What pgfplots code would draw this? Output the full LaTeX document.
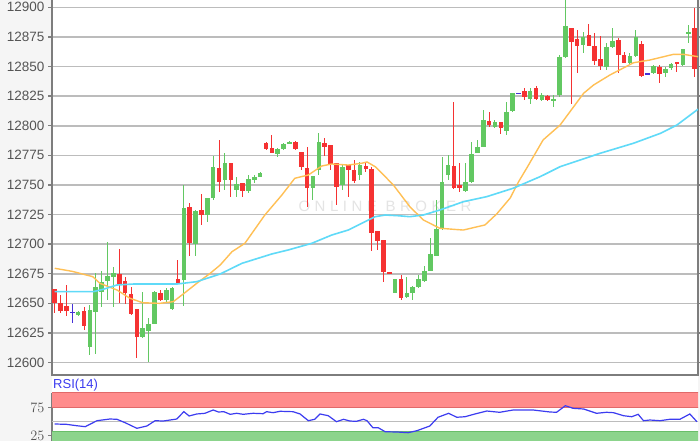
\documentclass[border=0pt]{standalone}
\usepackage{fontspec}
\setmainfont{Liberation Sans}
\usepackage{pgfplots}
\usepackage{pgfplotstable}
\pgfplotsset{compat=1.18}

\definecolor{bggray}{RGB}{245,245,245}
\definecolor{upc}{RGB}{98,200,98}
\definecolor{dnc}{RGB}{245,50,50}
\definecolor{dojic}{RGB}{70,50,215}
\definecolor{maY}{RGB}{255,192,85}
\definecolor{maC}{RGB}{95,218,248}
\definecolor{gridc}{RGB}{188,188,188}
\definecolor{axisc}{RGB}{125,125,125}
\definecolor{labc}{RGB}{85,85,85}
\definecolor{rsired}{RGB}{255,140,140}
\definecolor{rsiredd}{RGB}{225,105,105}
\definecolor{rsigreen}{RGB}{140,212,140}
\definecolor{rsigreend}{RGB}{105,190,105}
\definecolor{rsiline}{RGB}{60,60,240}
\definecolor{wm}{RGB}{228,228,228}

% candles: index, open, high, low, close
\pgfplotstableread{
i o h l c
4 12640 12644 12639 12642.9
6 12613.4 12648.6 12606.4 12644.4
7 12642.9 12676 12607 12664.1
8 12659.8 12677.6 12647.2 12668.3
9 12669.1 12701.8 12652.8 12673.1
10 12672.5 12680.7 12647.2 12675.4
15 12621.8 12659.8 12620.5 12628.9
16 12627.1 12637.6 12600.7 12632.8
17 12633.1 12660.3 12632.5 12659.8
19 12652.8 12663.5 12651.4 12661.3
20 12645 12664 12644.5 12663.5
22 12669.7 12750 12647.8 12730.3
24 12700.1 12728.8 12690 12728.2
26 12724.6 12738.7 12718.7 12738.7
27 12738.7 12774.4 12737.3 12765.4
29 12754.2 12776.7 12745.7 12768.3
31 12745.7 12757 12739.6 12750.8
33 12745.1 12758.4 12743.2 12754.8
34 12754.2 12758.4 12751.4 12757
35 12757 12761.2 12756.5 12759.8
38 12775.9 12781.6 12774.1 12780.1
39 12780.1 12785.1 12779.5 12784.6
40 12785.2 12787 12785 12786.5
44 12747.2 12757.5 12737.3 12757.5
45 12762.6 12793.6 12758.4 12786.5
49 12750 12766.8 12745.7 12765.4
52 12758.4 12769.4 12754.2 12766.8
58 12659 12670.3 12659 12670.3
60 12655.1 12672.5 12654.3 12658.5
61 12658.5 12664.6 12652.8 12663.5
62 12663.5 12674 12662.7 12670.3
63 12669.1 12681.5 12668.3 12677.6
64 12677.6 12705 12677.6 12691.7
65 12690 12737.3 12690 12713
66 12713 12773.9 12712 12752.7
67 12758.4 12775.3 12754.2 12766.8
70 12745.1 12768.3 12744.3 12752.7
71 12752.7 12786.5 12751.4 12776.1
72 12777.2 12788 12776.7 12782.3
73 12782.3 12813.3 12781.8 12804.9
75 12799.2 12805 12798 12803.4
77 12795.8 12820.3 12792.2 12811.9
78 12812.7 12827.6 12811.9 12827.4
81 12822.3 12831.6 12818.4 12829.6
83 12821.7 12827.4 12821 12826
85 12821.1 12826 12815.6 12822.3
86 12826 12859.7 12824.5 12858.3
87 12858.3 12907 12857 12884.2
90 12868.2 12879.4 12861.2 12874.7
94 12849.9 12869.6 12847.1 12866.8
95 12866.8 12882.3 12865.4 12871.8
98 12853.2 12861.7 12852.7 12858.9
99 12858.9 12880.9 12857.8 12874.7
102 12844.3 12851.3 12843.7 12850.5
104 12844.3 12849.9 12840.9 12848.3
105 12848.5 12853.2 12847.1 12852.1
107 12851.3 12864.6 12850.5 12864.6
108 12878.6 12885.1 12869.6 12879.1
}\up

\pgfplotstableread{
i o h l c
0 12661.8 12662.5 12641.6 12650.5
1 12650.1 12657 12642 12643.8
2 12647.7 12666 12639 12643.8
5 12643.5 12647 12627.5 12630.9
11 12674.8 12695.9 12650 12666.9
12 12668.9 12672.5 12650 12658.5
13 12657.9 12664 12640.1 12641
14 12645 12645 12603.6 12621.8
18 12658.5 12661.3 12652.2 12652.8
21 12670.5 12686.6 12666.9 12666.9
23 12731.1 12735 12690 12700.7
25 12728.8 12742.3 12716 12724.6
28 12764 12788 12744.3 12752.7
30 12768.8 12769 12739.6 12754.2
32 12751.9 12752 12739.6 12745.1
36 12785.7 12786 12779.8 12780.1
37 12780.9 12792.2 12776.7 12777.2
41 12786.5 12787 12779.5 12780.1
42 12778.1 12778.3 12763 12765.4
43 12764 12782.3 12731.6 12747.2
46 12785.7 12789.4 12774.4 12782
47 12783.7 12784 12762.6 12767.7
48 12768.3 12768.5 12733 12748.3
50 12766.8 12767 12740.1 12762.6
51 12762.6 12771.1 12751.4 12753.7
53 12766 12769.4 12760.9 12763.4
54 12763.2 12765.2 12694.5 12709.7
55 12711.4 12711.6 12695 12703
56 12703.5 12703.6 12668.3 12676.7
57 12676.7 12676.8 12675.2 12675.4
59 12670.3 12674 12652.8 12654.3
68 12766 12820.3 12747 12747.2
69 12750 12768.3 12744.3 12747.2
74 12804.3 12811.9 12799.2 12800.6
76 12803.4 12803.5 12793 12797.8
80 12829.6 12831.6 12821.7 12824.5
82 12831.6 12833.6 12821.5 12822.3
84 12825.1 12826 12821 12821.7
88 12882.3 12882.5 12818.4 12871
89 12873 12880.9 12844.8 12867.3
91 12876.6 12885.9 12867.1 12867.3
92 12867.3 12878.6 12851.3 12854.9
93 12856.1 12875.8 12847.1 12850.5
96 12872.4 12873.8 12844.3 12859.7
97 12859.7 12862.5 12852.7 12853.2
100 12869 12871.8 12841.4 12842
103 12849.9 12851.3 12836.4 12843.7
106 12853.8 12854 12845.6 12852.1
109 12882.3 12899.2 12841.4 12847.7
}\down

\pgfplotstableread{
i o h l c
3 12642.4 12649.4 12633.7 12642.4
79 12827.4 12827.6 12827.2 12827.4
101 12843.7 12843.9 12843.5 12843.7
}\doji

\pgfplotstableread{
i v
0 12679.6
3 12677
6.5 12672.5
7.7 12666.9
10.6 12661.3
12.8 12654.3
15.0 12650.5
17.9 12650.0
20.2 12651.4
21.9 12657.9
24.2 12666.9
26.5 12675.4
28.2 12682.4
30.2 12693.6
32.4 12700.7
35.8 12724.6
38.7 12741.5
40.9 12755.6
43.2 12758.4
45.5 12766.0
47.2 12767.7
50.0 12766.8
52.3 12768.3
53.2 12769.4
54.6 12765.4
56.3 12757.0
57.7 12749.9
60.5 12731.6
62.8 12720.4
65.6 12713.4
69.6 12711.9
73.3 12716.2
75.3 12725.5
77.6 12739.0
79.0 12752.5
80.4 12764.1
83.2 12788.0
86.1 12800.6
90.1 12827.4
91.8 12834.4
94.6 12842.9
98.6 12853.2
101.4 12855.5
105.4 12860.3
107.1 12860.3
109.6 12858.3
}\maY

\pgfplotstableread{
i v
0 12659.9
6.6 12659.9
8.3 12661.9
10.6 12665.5
13.4 12666.3
20.8 12666.3
24.2 12668.3
28.2 12674.8
31.9 12683.8
37.0 12691.7
39.8 12695.1
43.8 12700.7
47.2 12707.7
50.0 12711.9
52.3 12717.6
54.6 12723.2
56.3 12724.6
58.5 12724.0
60.5 12723.2
62.8 12724.6
65.6 12728.8
69.6 12735.8
73.6 12740.1
78.1 12747.2
82.7 12757.0
86.1 12765.4
92.9 12776.7
98.6 12785.2
103.2 12793.6
106.0 12800.6
109.6 12814.0
}\maC

\pgfplotstableread{
i v
0 45.9
2.0 45.3
3.7 42.9
5.2 41.1
7.2 51.8
9.4 54.8
10.6 54.3
12.0 48.2
14.0 38.2
15.7 42.3
17.1 51.8
18.5 51.2
20.8 54.8
22.0 67.9
22.9 60.2
24.2 63.8
25.6 65.0
27.0 70.9
27.9 67.3
28.8 67.9
29.9 63.2
31.0 65.0
32.1 63.2
33.8 65.0
35.5 64.3
36.1 67.9
37.2 66.1
38.4 68.6
40.6 67.9
41.8 63.8
43.2 51.8
44.3 54.3
45.2 63.8
46.6 60.7
48.0 50.0
49.2 54.3
50.3 51.2
51.4 50.7
52.6 54.3
53.2 51.8
54.2 39.3
55.1 39.3
56.3 32.1
58.3 31.6
60.2 30.4
61.7 33.9
63.9 42.3
65.3 57.9
67.1 65.0
68.5 57.9
69.9 58.9
71.6 63.8
73.6 69.1
75.8 66.8
78.1 70.9
81.5 70.9
84.4 67.3
85.5 66.8
87.0 78.6
88.3 73.9
90.1 72.7
92.3 65.0
94.0 66.8
95.2 66.1
96.9 60.7
98.3 58.9
99.4 63.2
100.3 51.8
101.4 53.0
103.1 51.8
104.8 54.3
106.5 54.3
108.2 63.8
109.4 50.0
}\rsi

\pgfplotsset{
  candle/.style n args={2}{only marks, mark=none, mark size=0pt,
    mark options={opacity=0}, #1,
    error bars/.cd, y dir=both, y explicit, error mark=none,
    error bar style={line width=#2, line cap=butt, draw=#1, opacity=1}},
  table/wick/.style={x=i, y expr={(\thisrow{h}+\thisrow{l})/2},
    y error expr={(\thisrow{h}-\thisrow{l})/2}},
  table/body/.style={x=i, y expr={(\thisrow{o}+\thisrow{c})/2},
    y error expr={max(abs(\thisrow{c}-\thisrow{o})/2,0.7)}},
}

\begin{document}
\begin{tikzpicture}[x=1bp,y=1bp]
\fill[bggray] (0,0) rectangle (700,441);
\fill[white] (52,66) rectangle (698,442);
\fill[white] (52,-5) rectangle (698,392.7);
\node[text=wm, font=\fontsize{15bp}{16bp}\selectfont\addfontfeature{LetterSpace=30}] at (385,235) {ONLINE BROKER};

\begin{axis}[
  at={(52bp,66bp)}, anchor=south west,
  width=646bp, height=376bp, scale only axis,
  xmin=-0.46, xmax=109.59, ymin=12589.48, ymax=12907.04,
  xtick=\empty,
  ytick={12600,12625,12650,12675,12700,12725,12750,12775,12800,12825,12850,12875,12900},
  yticklabels={12600,12625,12650,12675,12700,12725,12750,12775,12800,12825,12850,12875,12900},
  ymajorgrids, grid style={gridc, line width=1.6bp},
  axis line style={axisc, line width=1.5bp},
  tick align=outside, major tick length=4bp,
  ytick style={axisc, line width=1.5bp},
  yticklabel style={font=\fontsize{13.5bp}{14bp}\selectfont, text=labc},
]
\addplot[candle={upc}{1bp}] table[wick] {\up};
\addplot[candle={upc}{4.6bp}] table[body] {\up};
\addplot[candle={dnc}{1bp}] table[wick] {\down};
\addplot[candle={dnc}{4.6bp}] table[body] {\down};
\addplot[candle={dojic}{1bp}] table[wick] {\doji};
\addplot[candle={dojic}{4.6bp}] table[body] {\doji};
\addplot[maY, line width=1.4bp] table[x=i, y=v] {\maY};
\addplot[maC, line width=1.6bp] table[x=i, y=v] {\maC};
\end{axis}

\begin{axis}[
  at={(52bp,-4bp)}, anchor=south west,
  width=646bp, height=52.3bp, scale only axis,
  xmin=-0.46, xmax=109.59, ymin=8.4, ymax=101.8,
  xtick=\empty, ytick={25,75},
  axis x line=none, axis y line*=left,
  axis line style={axisc, line width=1.5bp, -},
  tick align=outside, major tick length=4bp,
  ytick style={axisc, line width=1.5bp},
  yticklabel style={font=\fontsize{13.5bp}{14bp}\selectfont, text=labc},
]
\addplot[fill=rsired, draw=rsiredd, line width=1bp] coordinates {(-1,75) (111,75) (111,101.8) (-1,101.8)} -- cycle;
\addplot[fill=rsigreen, draw=rsigreend, line width=1.2bp] coordinates {(-1,0) (111,0) (111,32.1) (-1,32.1)} -- cycle;
\addplot[gridc, line width=1.4bp] coordinates {(-1,50) (111,50)};
\addplot[rsiline, line width=1.2bp] table[x=i, y=v] {\rsi};
\end{axis}

\node[anchor=west, text=rsiline, font=\fontsize{13bp}{14bp}\selectfont, inner sep=0pt] at (53,56) {RSI(14)};
\pgfresetboundingbox
\path[use as bounding box] (0,0) rectangle (700,441);
\end{tikzpicture}
\end{document}
